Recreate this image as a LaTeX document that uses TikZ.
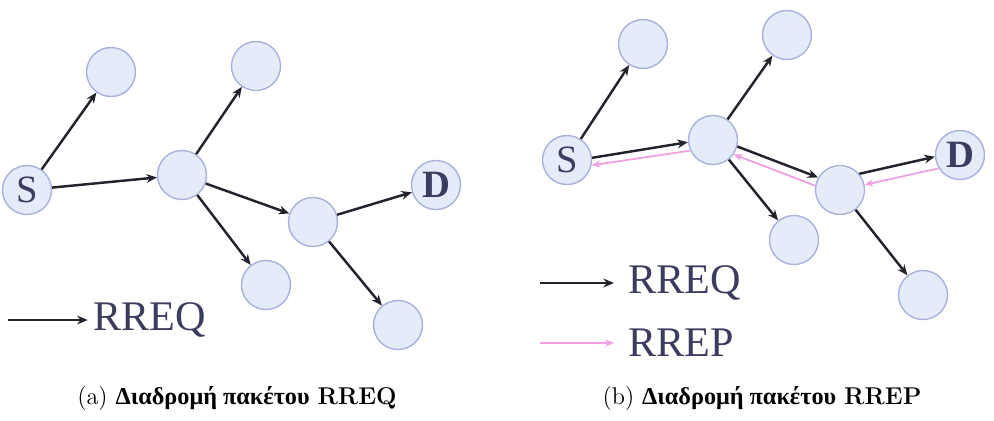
\documentclass[tikz,border=0pt]{standalone}
\usepackage{fontspec}
\newfontfamily\timesfont{Liberation Serif}[Script=Greek]
\usetikzlibrary{arrows.meta}

\definecolor{nodefill}{RGB}{228,236,250}
\definecolor{nodeline}{RGB}{168,178,218}
\definecolor{rrepcol}{RGB}{238,160,225}
\definecolor{rreqcol}{RGB}{35,35,45}
\definecolor{labelcol}{RGB}{60,60,95}

\begin{document}
\begin{tikzpicture}[x=0.2mm,y=-0.2mm,
	station/.style={draw=nodeline,fill=nodefill,circle,line width=0.8pt,minimum size=9.8mm,inner sep=0pt,
		font=\timesfont\fontsize{22}{24}\selectfont,text=labelcol},
	rreq/.style={draw=rreqcol,line width=1.4pt,-{Stealth[length=6pt,width=5pt]}},
	rrep/.style={draw=rrepcol,line width=1pt,-{Stealth[length=5pt,width=4pt]}},
	legend/.style={anchor=west,font=\timesfont\fontsize{24}{28}\selectfont,text=labelcol,inner sep=0pt},
	caption/.style={font=\fontsize{12}{14}\selectfont,scale=1.15,transform shape}]

	\useasboundingbox (0,0) rectangle (994,420);

	% (a) RREQ
	\node[station] (Sa) at (27,190) {S};
	\node[station] (Ua) at (111,72) {};
	\node[station] (Ma) at (182,175) {};
	\node[station] (Va) at (256,66) {};
	\node[station] (Na) at (313,222) {};
	\node[station] (Da) at (436,185) {\textbf{D}};
	\node[station] (Wa) at (266,285) {};
	\node[station] (Xa) at (398,325) {};

	\draw[rreq] (Sa) -- (Ua);
	\draw[rreq] (Sa) -- (Ma);
	\draw[rreq] (Ma) -- (Va);
	\draw[rreq] (Ma) -- (Na);
	\draw[rreq] (Ma) -- (Wa);
	\draw[rreq] (Na) -- (Da);
	\draw[rreq] (Na) -- (Xa);

	\coordinate (la) at (8,320);
	\node[legend] (rreqa) at (93,320) {RREQ};
	\draw[rreq] (la) -- ([xshift=-3]rreqa.west);

	\node[caption] (capa) at (237,398) {(a) {\timesfont\bfseries Διαδρομή πακέτου} \textbf{RREQ}};

	% (b) RREP
	\node[station] (Sb) at (567,160) {S};
	\node[station] (Ub) at (643,44) {};
	\node[station] (Mb) at (713,140) {};
	\node[station] (Vb) at (787,35) {};
	\node[station] (Nb) at (840,190) {};
	\node[station] (Db) at (960,155) {\textbf{D}};
	\node[station] (Wb) at (794,240) {};
	\node[station] (Xb) at (923,295) {};

	\draw[rreq] (Sb) -- (Ub);
	\draw[rreq] (Sb.5) -- (Mb.185);
	\draw[rreq] (Mb) -- (Vb);
	\draw[rreq] (Mb.-15) -- (Nb.150);
	\draw[rreq] (Mb) -- (Wb);
	\draw[rreq] (Nb.40) -- (Db.184);
	\draw[rreq] (Nb) -- (Xb);

	\draw[rrep] (Mb.205) -- (Sb.-12);
	\draw[rrep] (Nb.170) -- (Mb.-35);
	\draw[rrep] (Db.212) -- (Nb.12);

	\coordinate (lb) at (540,283);
	\node[legend] (rreqb) at (628,283) {RREQ};
	\draw[rreq] (lb) -- ([xshift=-8]rreqb.west);

	\coordinate (lc) at (540,343);
	\node[legend] (rrepb) at (628,343) {RREP};
	\draw[rrep] (lc) -- ([xshift=-8]rrepb.west);

	\node[caption] (capb) at (762,398) {(b) {\timesfont\bfseries Διαδρομή πακέτου} \textbf{RREP}};

\end{tikzpicture}
\end{document}
